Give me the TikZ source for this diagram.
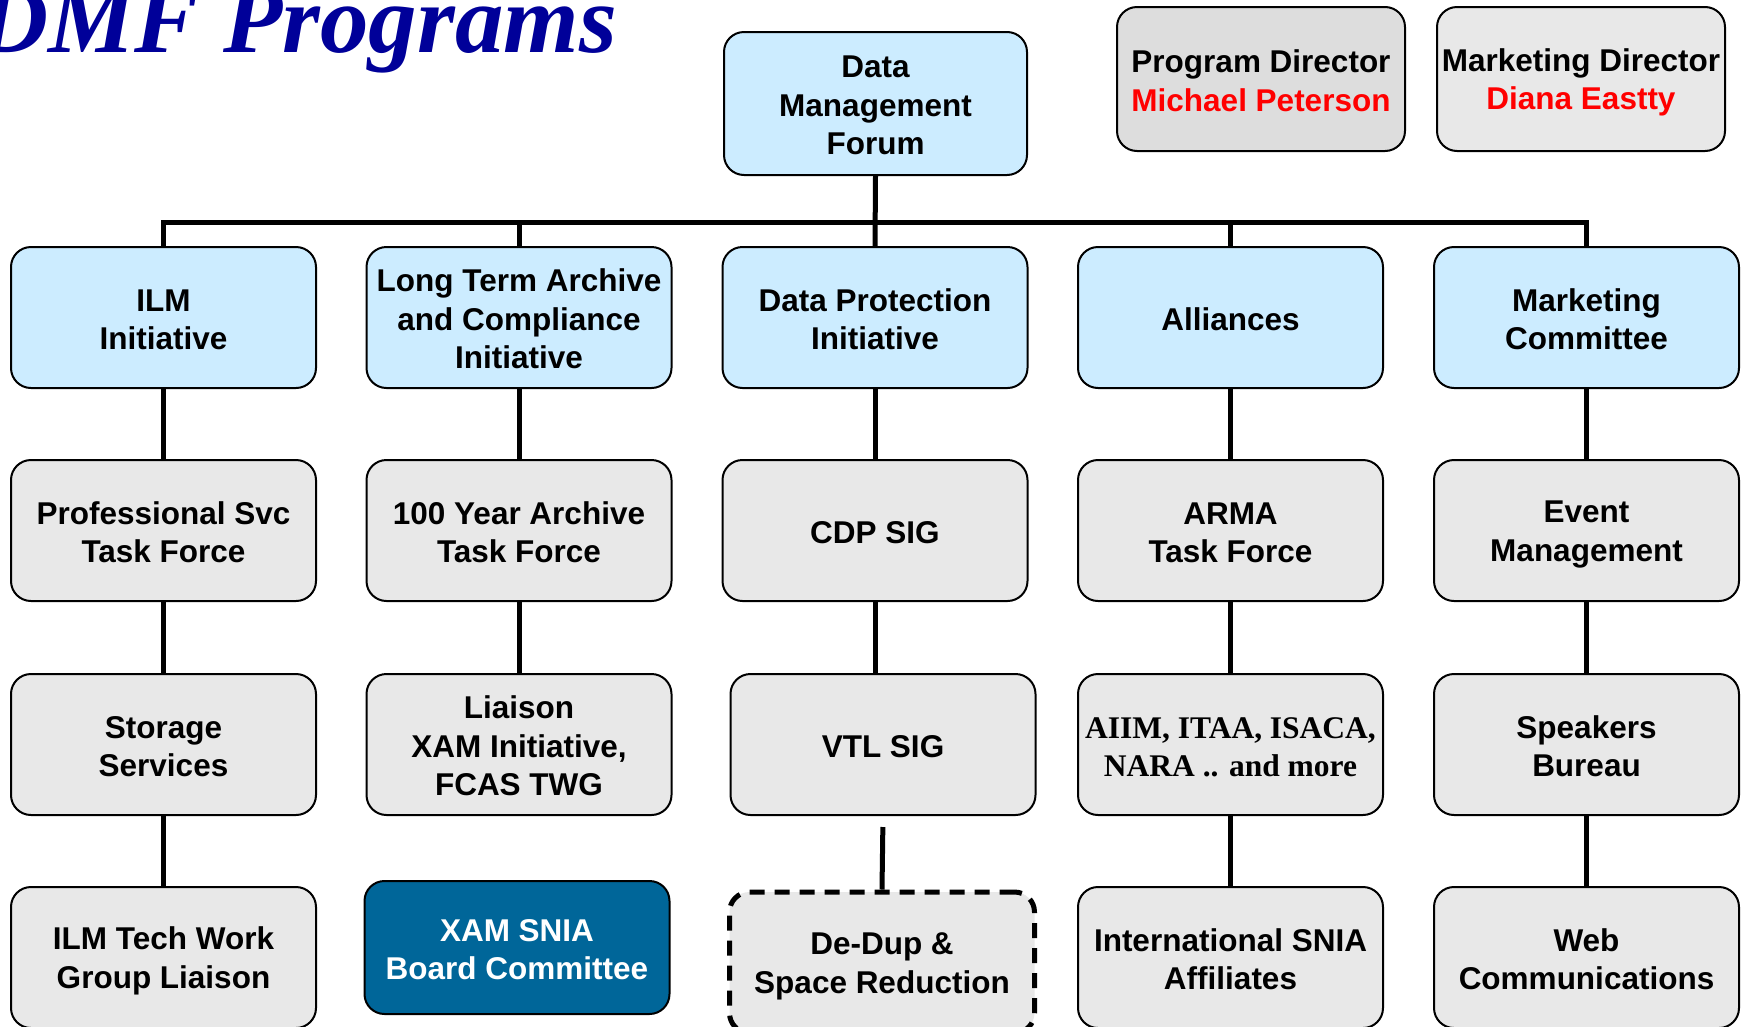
\documentclass[tikz,border=0pt]{standalone}
\usepackage{fontspec}
\setmainfont{Liberation Sans}
\newfontfamily\serifface{Liberation Serif}
\usetikzlibrary{backgrounds}
\definecolor{lblue}{RGB}{204,236,255}
\definecolor{lgrey}{RGB}{232,232,232}
\definecolor{mgrey}{RGB}{221,221,221}
\definecolor{xamblue}{RGB}{0,102,153}
\definecolor{titleblue}{RGB}{0,0,153}
\definecolor{namered}{RGB}{255,0,0}
% top strut (first line) and bottom strut (last line)
\newcommand\tA{\rule{0pt}{30pt}}
\newcommand\tZ{\rule[-4.4pt]{0pt}{4.4pt}}
\tikzset{
  box/.style={draw=black, line width=2, rounded corners=20, minimum width=305,
    minimum height=141, inner sep=0, align=center,
    font=\fontsize{31.5}{38.5}\selectfont\bfseries},
  bluebox/.style={box, fill=lblue},
  greybox/.style={box, fill=lgrey},
  dirbox/.style={box, minimum width=288, minimum height=144},
  conn/.style={line width=5, draw=black}
}
\begin{document}
\begin{tikzpicture}[x=1pt,y=-1pt]
\clip (0,0) rectangle (1743,1026);
% title
\node[anchor=base east, text=titleblue, inner sep=0,
  font=\serifface\fontsize{97}{97}\selectfont\bfseries\itshape] (title) at (617,52) {DMF Programs};
% top
\node[bluebox, minimum width=303, minimum height=143] (dmf) at (875.5,103.5) {\tA Data\\Management\\Forum\tZ};
\node[dirbox, fill=mgrey] (pd) at (1261,79) {\tA Program Director\\\textcolor{namered}{Michael Peterson}\tZ};
\node[dirbox, fill=lgrey] (md) at (1581,79) {\tA Marketing Director\\\textcolor{namered}{Diana Eastty}\tZ};
% row 1
\node[bluebox] (ilm) at (163.5,317.5) {\tA ILM\\Initiative\tZ};
\node[bluebox] (ltac) at (519,317.5) {\tA Long Term Archive\\and Compliance\\Initiative\tZ};
\node[bluebox] (dpi) at (875,317.5) {\tA Data Protection\\Initiative\tZ};
\node[bluebox] (all) at (1230.5,317.5) {\tA Alliances\tZ};
\node[bluebox] (mkt) at (1586.5,317.5) {\tA Marketing\\Committee\tZ};
% row 2
\node[greybox] (psvc) at (163.5,530.5) {\tA Professional Svc\\Task Force\tZ};
\node[greybox] (yr100) at (519,530.5) {\tA 100 Year Archive\\Task Force\tZ};
\node[greybox] (cdp) at (875,530.5) {\tA CDP SIG\tZ};
\node[greybox] (arma) at (1230.5,530.5) {\tA ARMA\\Task Force\tZ};
\node[greybox] (event) at (1586.5,530.5) {\tA Event\\Management\tZ};
% row 3
\node[greybox] (stor) at (163.5,744.5) {\tA Storage\\Services\tZ};
\node[greybox] (liaison) at (519,744.5) {\tA Liaison\\XAM Initiative,\\FCAS TWG\tZ};
\node[greybox] (vtl) at (883,744.5) {\tA VTL SIG\tZ};
\node[greybox, font=\serifface\fontsize{31.5}{38.5}\selectfont\bfseries] (aiim) at (1230.5,744.5) {\tA AIIM, ITAA, ISACA,\\NARA .. and more\tZ};
\node[greybox] (speak) at (1586.5,744.5) {\tA Speakers\\Bureau\tZ};
% row 4
\node[greybox] (ilmtech) at (163.5,957.5) {\tA ILM Tech Work\\Group Liaison\tZ};
\node[box, fill=xamblue, text=white, minimum height=133] (xam) at (517,947.5) {\tA XAM SNIA\\Board Committee\tZ};
\node[greybox, line width=5, dash pattern=on 15 off 10] (dedup) at (882,962.5) {\tA De-Dup \&\\Space Reduction\tZ};
\node[greybox] (intl) at (1230.5,957.5) {\tA International SNIA\\Affiliates\tZ};
\node[greybox] (web) at (1586.5,957.5) {\tA Web\\Communications\tZ};
% connectors
\begin{scope}[on background layer]
\coordinate (bus) at (875,222);
\draw[conn, line join=miter] (ilm.north) |- (bus) -| (mkt.north);
\draw[conn] (dmf.south) -- (dpi.north);
\draw[conn] (ltac.north) -- (ltac.north |- bus);
\draw[conn] (all.north) -- (all.north |- bus);
\draw[conn] (ilm.south) -- (psvc.north);
\draw[conn] (psvc.south) -- (stor.north);
\draw[conn] (stor.south) -- (ilmtech.north);
\draw[conn] (ltac.south) -- (yr100.north);
\draw[conn] (yr100.south) -- (liaison.north);
\draw[conn] (dpi.south) -- (cdp.north);
\draw[conn] (cdp.south) -- (cdp.south |- vtl.north);
\draw[conn, shorten <=11] (vtl.south) -- (dedup.north);
\draw[conn] (all.south) -- (arma.north);
\draw[conn] (arma.south) -- (aiim.north);
\draw[conn] (aiim.south) -- (intl.north);
\draw[conn] (mkt.south) -- (event.north);
\draw[conn] (event.south) -- (speak.north);
\draw[conn] (speak.south) -- (web.north);
\end{scope}
\end{tikzpicture}
\end{document}
